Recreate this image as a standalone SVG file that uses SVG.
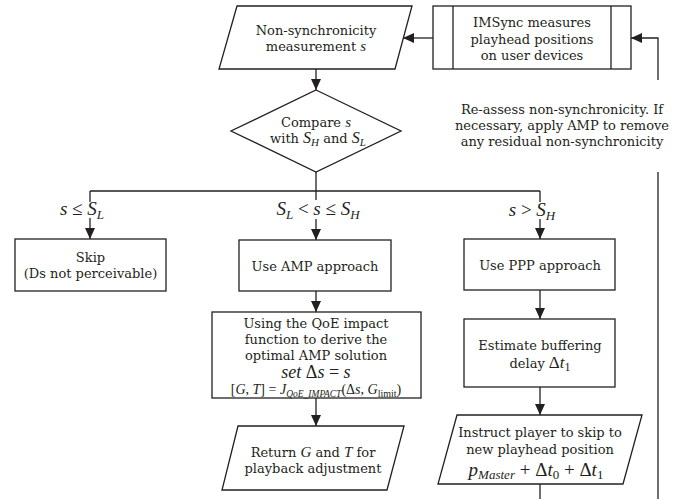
<svg xmlns="http://www.w3.org/2000/svg" width="691" height="499" viewBox="0 0 691 499">
<style>
.shape{fill:#fff;stroke:#231f20;stroke-width:1.3}
.ln{fill:none;stroke:#231f20;stroke-width:1.3}
.t{font-family:"DejaVu Serif",serif;font-size:13px;fill:#231f20;text-anchor:middle}
.m{font-family:"Liberation Serif",serif;font-style:italic}
.u{font-family:"Liberation Serif",serif;font-style:normal}
.lab{font-family:"Liberation Serif",serif;font-size:19px;fill:#231f20;text-anchor:middle}
</style>
<defs>
<marker id="ah" markerUnits="userSpaceOnUse" markerWidth="11" markerHeight="10" refX="11" refY="5" orient="auto">
<path d="M0,0 L11,5 L0,10 z" fill="#231f20"/>
</marker>
</defs>
<rect width="691" height="499" fill="#fff"/>
<g id="connectors">
<path class="ln" d="M433,38 H403" marker-end="url(#ah)"/>
<path class="ln" d="M658,80 V38 H631" marker-end="url(#ah)"/>
<path class="ln" d="M658,172 V499"/>
<path class="ln" d="M316,69 V90" marker-end="url(#ah)"/>
<path class="ln" d="M316,172 V191 M90,191 H540"/>
<path class="ln" d="M90,191 V202"/>
<path class="ln" d="M90,218 V239" marker-end="url(#ah)"/>
<path class="ln" d="M316,191 V200"/>
<path class="ln" d="M316,219 V240" marker-end="url(#ah)"/>
<path class="ln" d="M540,191 V202"/>
<path class="ln" d="M540,219 V239" marker-end="url(#ah)"/>
<path class="ln" d="M316,291 V312" marker-end="url(#ah)"/>
<path class="ln" d="M316,398 V426" marker-end="url(#ah)"/>
<path class="ln" d="M540,290 V319" marker-end="url(#ah)"/>
<path class="ln" d="M540,387 V415" marker-end="url(#ah)"/>
<path class="ln" d="M540,484 V499"/>
</g>
<g id="loop-label">
<text class="t"><tspan x="562" y="114">Re-assess non-synchronicity. If</tspan><tspan x="562" y="130">necessary, apply AMP to remove</tspan><tspan x="562" y="146">any residual non-synchronicity</tspan></text>
</g>
<g id="branch-labels">
<text class="lab" x="82" y="215"><tspan class="m">s</tspan> ≤ <tspan class="m">S</tspan><tspan class="m" font-size="13" dy="4">L</tspan></text>
<text class="lab" x="318" y="215"><tspan class="m">S</tspan><tspan class="m" font-size="13" dy="4">L</tspan><tspan dy="-4"> &lt; </tspan><tspan class="m">s</tspan> ≤ <tspan class="m">S</tspan><tspan class="m" font-size="13" dy="4">H</tspan></text>
<text class="lab" x="532" y="216"><tspan class="m">s</tspan> &gt; <tspan class="m">S</tspan><tspan class="m" font-size="13" dy="4">H</tspan></text>
</g>
<g id="measurement">
<polygon class="shape" points="237,6 412,6 395,69 219,69"/>
<text class="t"><tspan x="316" y="35">Non-synchronicity</tspan><tspan x="316" y="51">measurement <tspan class="m" font-size="15">s</tspan></tspan></text>
</g>
<g id="imsync">
<rect class="shape" x="433" y="6" width="198" height="63"/>
<path class="ln" d="M453,6 V69 M611,6 V69"/>
<text class="t"><tspan x="532" y="27">IMSync measures</tspan><tspan x="532" y="44">playhead positions</tspan><tspan x="532" y="60">on user devices</tspan></text>
</g>
<g id="compare">
<polygon class="shape" points="316,90 401,131 316,172 231,131"/>
<text class="t" x="316" y="127">Compare <tspan class="m" font-size="15">s</tspan></text>
<text class="t" x="318" y="143">with <tspan class="m" font-size="16">S</tspan><tspan class="m" font-size="11" dy="2.5">H</tspan><tspan dy="-2.5"> and </tspan><tspan class="m" font-size="16">S</tspan><tspan class="m" font-size="11" dy="2.5">L</tspan></text>
</g>
<g id="skip">
<rect class="shape" x="15" y="239" width="151" height="52"/>
<text class="t"><tspan x="90.5" y="262">Skip</tspan><tspan x="90.5" y="278">(Ds not perceivable)</tspan></text>
</g>
<g id="amp">
<rect class="shape" x="239" y="240" width="152" height="51"/>
<text class="t" x="315" y="271">Use AMP approach</text>
</g>
<g id="ppp">
<rect class="shape" x="464" y="239" width="151" height="51"/>
<text class="t" x="540" y="270">Use PPP approach</text>
</g>
<g id="qoe">
<rect class="shape" x="212" y="312" width="209" height="86"/>
<text class="t"><tspan x="316" y="328">Using the QoE impact</tspan><tspan x="316" y="344">function to derive the</tspan><tspan x="316" y="360">optimal AMP solution</tspan></text>
<text class="t" x="316" y="378" style="font-size:18px"><tspan class="m">set</tspan><tspan class="u"> Δ</tspan><tspan class="m">s</tspan><tspan class="u"> = </tspan><tspan class="m">s</tspan></text>
<text class="t u" x="316" y="394" style="font-size:14px">[<tspan class="m">G</tspan>, <tspan class="m">T</tspan>] = <tspan class="m">J</tspan><tspan class="m" font-size="9.5" dy="2.5">QoE_IMPACT</tspan><tspan dy="-2.5">(Δ</tspan><tspan class="m">s</tspan>, <tspan class="m">G</tspan><tspan font-size="10" dy="2.5">limit</tspan><tspan dy="-2.5">)</tspan></text>
</g>
<g id="return">
<polygon class="shape" points="238,426 404,426 387,490 222,490"/>
<text class="t"><tspan x="313" y="457">Return <tspan class="m" font-size="15">G</tspan> and <tspan class="m" font-size="15">T</tspan> for</tspan><tspan x="313" y="473">playback adjustment</tspan></text>
</g>
<g id="estimate">
<rect class="shape" x="464" y="319" width="151" height="68"/>
<text class="t"><tspan x="540" y="350">Estimate buffering</tspan><tspan x="540" y="368">delay <tspan class="u" font-size="17">Δ</tspan><tspan class="m" font-size="17">t</tspan><tspan class="u" font-size="12" dy="3">1</tspan></tspan></text>
</g>
<g id="instruct">
<polygon class="shape" points="457,415 642,415 623,484 438,484"/>
<text class="t"><tspan x="540" y="437">Instruct player to skip to</tspan><tspan x="540" y="454">new playhead position</tspan></text>
<text class="t u" x="536" y="476" style="font-size:19px"><tspan class="m">p</tspan><tspan class="m" font-size="13" dy="3">Master</tspan><tspan dy="-3"> + Δ</tspan><tspan class="m">t</tspan><tspan font-size="13" dy="3">0</tspan><tspan dy="-3"> + Δ</tspan><tspan class="m">t</tspan><tspan font-size="13" dy="3">1</tspan></text>
</g>
</svg>
